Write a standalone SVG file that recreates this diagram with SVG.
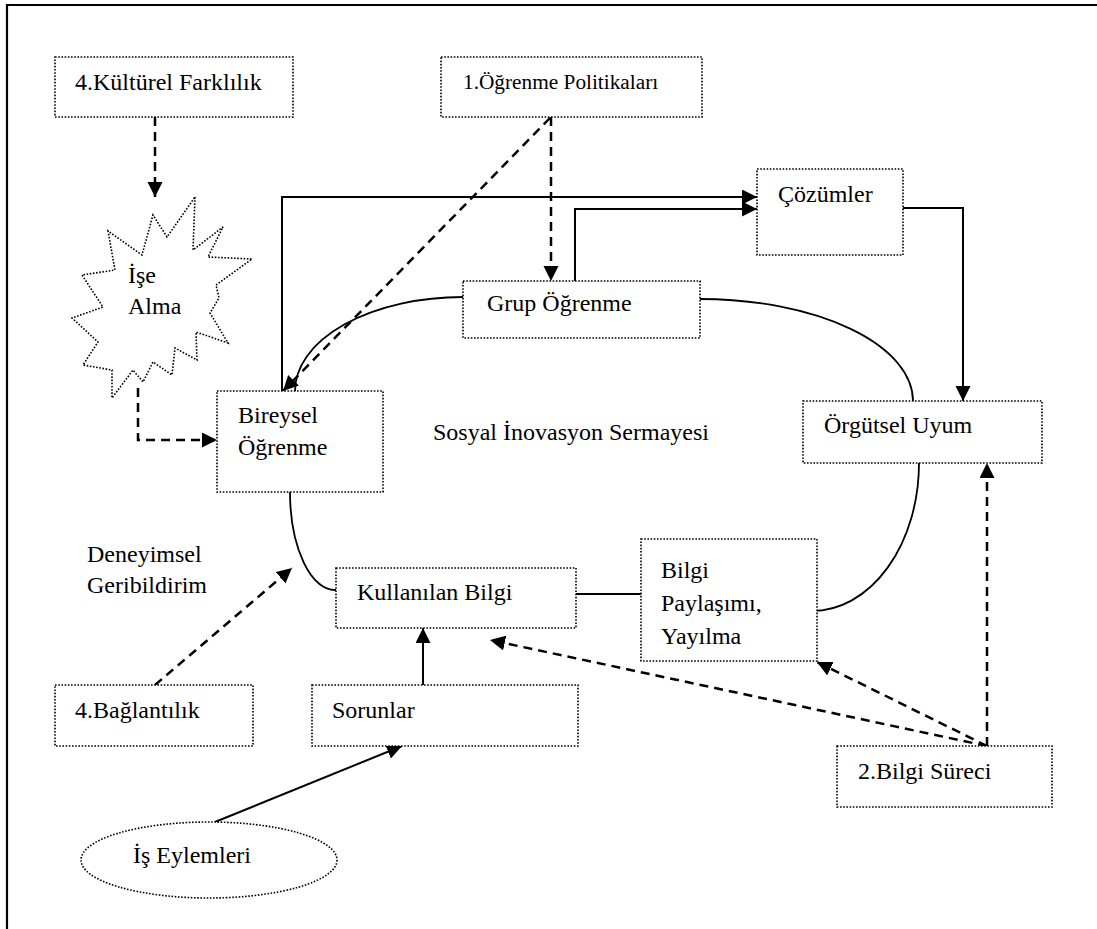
<svg xmlns="http://www.w3.org/2000/svg" width="1097" height="929" viewBox="0 0 1097 929">
<defs>
<style>
.box{fill:#fff;stroke:#000;stroke-width:1.6;stroke-dasharray:1.6 1.6}
.t{font-family:"Liberation Serif","Times New Roman",serif;font-size:24px;fill:#000}
.s{fill:none;stroke:#000;stroke-width:2}
.d{fill:none;stroke:#000;stroke-width:2.5;stroke-dasharray:9 6}
.c{fill:none;stroke:#000;stroke-width:1.8}
</style>
<marker id="ah" markerUnits="userSpaceOnUse" markerWidth="16" markerHeight="16" refX="15" refY="7.5" orient="auto">
<path d="M0,0 L15,7.5 L0,15 z" fill="#000"/>
</marker>
<marker id="ahs" markerUnits="userSpaceOnUse" markerWidth="10" markerHeight="10" refX="9" refY="4.5" orient="auto">
<path d="M0,0 L9,4.5 L0,9 z" fill="#000"/>
</marker>
</defs>
<rect width="1097" height="929" fill="#fff"/>
<path d="M7,929 V5 H1097" fill="none" stroke="#000" stroke-width="2.2"/>

<g id="connectors">
<path class="c" d="M463,297 A168,94 0 0 0 295,391"/>
<path class="c" d="M700,299 A213,102 0 0 1 913,401"/>
<path class="c" d="M919,463 A107,148 0 0 1 812,611"/>
<path class="c" d="M290,492 A45,98 0 0 0 336,590"/>
<path class="c" d="M576,594 H641"/>
<path class="d" d="M155,117 V197" marker-end="url(#ah)"/>
<path class="d" d="M138,388 V440 H217" marker-end="url(#ah)"/>
<path class="s" d="M282,391 V197 H757" marker-end="url(#ah)"/>
<path class="s" d="M575,281 V209 H757" marker-end="url(#ah)"/>
<path class="s" d="M903,208 H963 V401" marker-end="url(#ah)"/>
<path class="d" d="M550,118 L283,391" marker-start="url(#ahs)" marker-end="url(#ah)"/>
<path class="d" d="M551,117 V281" marker-end="url(#ah)"/>
<path class="d" d="M155,685 L292,568" marker-end="url(#ah)"/>
<path class="s" d="M423,685 V628" marker-end="url(#ah)"/>
<path class="s" d="M215,822 L402,746" marker-end="url(#ah)"/>
<path class="d" d="M987,746 V463" marker-end="url(#ah)"/>
<path class="d" d="M987,746 L817,662" marker-end="url(#ah)"/>
<path class="d" d="M987,746 L490,640" marker-end="url(#ah)"/>
</g>

<g id="kulturel">
<rect class="box" x="55" y="57" width="238" height="60"/>
<text class="t" x="75" y="90">4.Kültürel Farklılık</text>
</g>
<g id="politikalar">
<rect class="box" x="441" y="57" width="261" height="60"/>
<text class="t" x="463" y="89" style="font-size:21.3px">1.Öğrenme Politikaları</text>
</g>
<g id="cozumler">
<rect class="box" x="757" y="169" width="146" height="86"/>
<text class="t" x="778" y="202">Çözümler</text>
</g>
<g id="ise-alma">
<polygon class="box" points="195,197 193,250 223,227 208,257 252,259 216,285 219,298 210,313 228,343 196,332 197,360 175,348 172,375 153,362 143,382 133,370 112,398 112,370 83,365 98,342 72,318 103,307 82,275 115,270 108,231 142,255 153,215 167,237"/>
<text class="t" x="128" y="283">İşe</text>
<text class="t" x="128" y="314">Alma</text>
</g>
<g id="grup">
<rect class="box" x="463" y="281" width="237" height="57"/>
<text class="t" x="487" y="311">Grup Öğrenme</text>
</g>
<g id="bireysel">
<rect class="box" x="217" y="391" width="166" height="101"/>
<text class="t" x="238" y="423">Bireysel</text>
<text class="t" x="238" y="455">Öğrenme</text>
</g>
<g id="sosyal">
<text class="t" x="433" y="440">Sosyal İnovasyon Sermayesi</text>
</g>
<g id="orgutsel">
<rect class="box" x="803" y="401" width="239" height="62"/>
<text class="t" x="824" y="433">Örgütsel Uyum</text>
</g>
<g id="deneyimsel">
<text class="t" x="87" y="562">Deneyimsel</text>
<text class="t" x="87" y="593">Geribildirim</text>
</g>
<g id="kullanilan">
<rect class="box" x="336" y="568" width="240" height="60"/>
<text class="t" x="357" y="600">Kullanılan Bilgi</text>
</g>
<g id="paylasim">
<rect class="box" x="641" y="539" width="176" height="122"/>
<text class="t" x="661" y="578">Bilgi</text>
<text class="t" x="661" y="611">Paylaşımı,</text>
<text class="t" x="661" y="644">Yayılma</text>
</g>
<g id="baglantilik">
<rect class="box" x="55" y="685" width="198" height="61"/>
<text class="t" x="75" y="718">4.Bağlantılık</text>
</g>
<g id="sorunlar">
<rect class="box" x="312" y="685" width="266" height="61"/>
<text class="t" x="332" y="718">Sorunlar</text>
</g>
<g id="bilgi-sureci">
<rect class="box" x="837" y="746" width="215" height="61"/>
<text class="t" x="858" y="779">2.Bilgi Süreci</text>
</g>
<g id="is-eylemleri">
<ellipse class="box" cx="209" cy="860" rx="128" ry="38"/>
<text class="t" x="133" y="863">İş Eylemleri</text>
</g>
</svg>
